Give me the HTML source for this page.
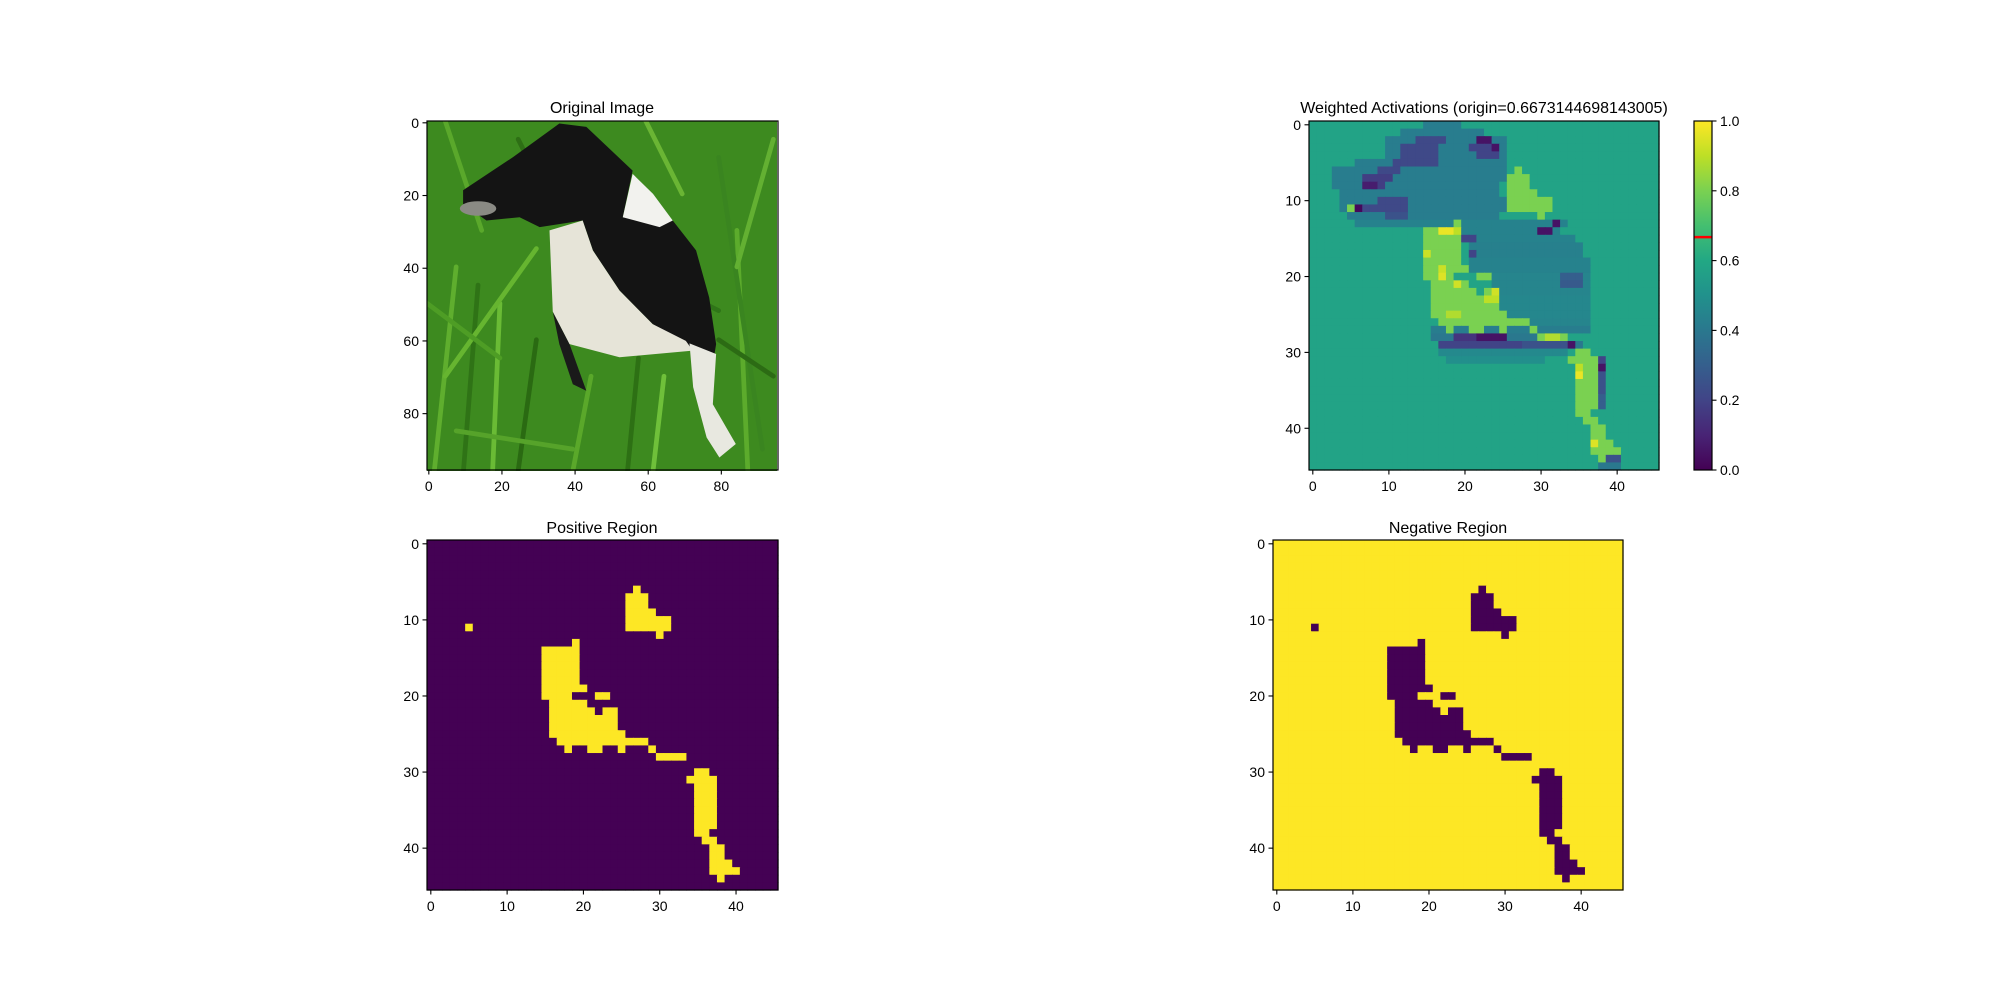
<!DOCTYPE html>
<html><head><meta charset="utf-8"><style>
html,body{margin:0;padding:0;background:#fff;}
svg{display:block;font-family:"Liberation Sans","DejaVu Sans",sans-serif;}
</style></head><body>
<svg id="fig" width="2000" height="1000" viewBox="0 0 2000 1000" xmlns="http://www.w3.org/2000/svg">
<defs>
<linearGradient id="vir" x1="0" y1="1" x2="0" y2="0">
<stop offset="0" stop-color="#440154"/><stop offset="0.1" stop-color="#482475"/><stop offset="0.2" stop-color="#414487"/><stop offset="0.3" stop-color="#355f8d"/><stop offset="0.4" stop-color="#2a788e"/><stop offset="0.5" stop-color="#21918c"/><stop offset="0.6" stop-color="#22a884"/><stop offset="0.7" stop-color="#44bf70"/><stop offset="0.8" stop-color="#7ad151"/><stop offset="0.9" stop-color="#bddf26"/><stop offset="1" stop-color="#fde725"/>
</linearGradient>
<clipPath id="imgclip"><rect x="0" y="0" width="96" height="96"/></clipPath>
</defs>
<g id="orig">
<text x="602" y="113" font-size="16" text-anchor="middle">Original Image</text>
<g transform="translate(427,121) scale(3.6458)" clip-path="url(#imgclip)">
<rect x="0" y="0" width="96" height="96" fill="#3d8a1f"/>
<g stroke-width="1.3" fill="none" stroke-linecap="round">
<path d="M2 96 L8 40" stroke="#5fae2e"/><path d="M10 96 L14 45" stroke="#2f7316"/><path d="M18 96 L20 50" stroke="#6abb35"/>
<path d="M25 96 L30 60" stroke="#2a6a12"/><path d="M5 70 L30 35" stroke="#66b530"/><path d="M40 96 L45 70" stroke="#5aa82a"/>
<path d="M55 96 L58 65" stroke="#2d7014"/><path d="M62 96 L65 70" stroke="#6fc03a"/><path d="M88 96 L85 30" stroke="#5cab2c"/>
<path d="M92 90 L80 10" stroke="#3a8520"/><path d="M70 20 L60 0" stroke="#6ab534"/><path d="M85 40 L95 5" stroke="#63b032"/>
<path d="M15 30 L5 0" stroke="#5aa82b"/><path d="M25 5 L35 25" stroke="#2e6f15"/><path d="M80 60 L95 70" stroke="#2c6b14"/>
<path d="M0 50 L20 65" stroke="#4e9d25"/><path d="M66 45 L80 52" stroke="#2f7518"/><path d="M8 85 L40 90" stroke="#56a32a"/>
</g>
<polygon fill="#141414" points="9.9,19 23.6,9.9 36.3,0.7 43.7,1.6 56.4,13.6 53.7,26.4 67.4,27.3 73.8,35.5 77.4,48.4 79.3,61.2 78.4,66.7 71,61.2 61.9,55.7 52.8,46.5 45.5,35.5 42.7,27.3 30.9,29.1 25.4,26.4 16.3,27.3 9.9,22.7"/>
<polygon fill="#1a1a1a" points="34.5,52.3 39.1,61.2 43.7,74 40,72.2 36.3,61.2"/>
<polygon fill="#f2f2ee" points="56.4,14.5 62,20 67.4,27.3 63.8,29.1 53.7,26.4"/>
<polygon fill="#e6e4d8" points="33.6,30 42.7,27.3 45.5,35.5 52.8,46.5 61.9,55.7 71,60.3 72.9,63 52.8,64.8 39.1,61.2 34.5,52.3"/>
<polygon fill="#e8e8e0" points="72,61 79.3,63.9 78.4,77.7 84.7,88.6 80.2,92.3 76.7,86.8 73,73"/>
<ellipse cx="14" cy="24" rx="5" ry="2" fill="#8a8a84"/>
</g>
<rect x="427" y="121" width="351" height="349" fill="none" stroke="#000" stroke-width="1.2"/>
<g id="origTicks"></g>
</g>
<g id="act">
<text x="1484" y="113" font-size="16" text-anchor="middle">Weighted Activations (origin=0.6673144698143005)</text>
<g id="heat"></g>
<rect x="1309" y="121" width="350" height="349" fill="none" stroke="#000" stroke-width="1.2"/>
<g id="actTicks"></g>
<g>
<rect x="1694" y="121" width="18" height="349" fill="url(#vir)"/>
<line id="originLine" x1="1694" x2="1712" stroke="#ff0000" stroke-width="2.5"/>
<rect x="1694" y="121" width="18" height="349" fill="none" stroke="#000" stroke-width="1.2"/>
<g id="cbTicks"></g>
</g>
</g>
<g id="pos">
<text x="602" y="533" font-size="16" text-anchor="middle">Positive Region</text>
<g id="posHeat"></g>
<rect x="427" y="540" width="351" height="350" fill="none" stroke="#000" stroke-width="1.2"/>
<g id="posTicks"></g>
</g>
<g id="neg">
<text x="1448" y="533" font-size="16" text-anchor="middle">Negative Region</text>
<g id="negHeat"></g>
<rect x="1273" y="540" width="350" height="350" fill="none" stroke="#000" stroke-width="1.2"/>
<g id="negTicks"></g>
</g>
</svg>
<script>
// positive mask segments [row, colStart, colEnd]
const maskSegments = [
[6,27,27],[7,26,28],[8,26,28],[9,26,29],[10,26,31],[11,26,31],[11,5,5],[12,30,30],[13,19,19],
[14,15,19],[15,15,19],[16,15,19],[17,15,19],[18,15,19],[19,15,20],[20,15,18],[20,22,23],
[21,16,20],[22,16,21],[22,23,24],[23,16,24],[24,16,24],[25,16,25],[26,17,28],
[27,18,18],[27,21,22],[27,25,25],[27,29,29],[28,30,33],[30,35,36],[31,34,37],
[32,35,37],[33,35,37],[34,35,37],[35,35,37],[36,35,37],[37,35,37],[38,35,36],[39,36,37],
[40,37,38],[41,37,38],[42,37,39],[43,37,40],[44,38,38]];
// activation segments [row, colStart, colEnd, value]
const baseValue = 0.58;
const darkSegments = [
[0,15,19,0.42],[1,12,22,0.42],[2,10,25,0.42],[3,10,25,0.42],[4,10,25,0.42],[5,6,25,0.42],[6,3,25,0.42],
[7,3,25,0.42],[8,3,24,0.42],[9,4,24,0.42],[10,4,25,0.42],[11,4,25,0.42],[12,5,24,0.42],[13,6,33,0.44],
[14,20,32,0.44],[15,20,34,0.44],[16,21,35,0.43],[17,21,35,0.43],[18,21,36,0.44],[19,21,36,0.44],[20,22,36,0.45],
[21,24,36,0.45],[22,24,36,0.45],[23,25,36,0.46],[24,25,36,0.46],[25,26,36,0.46],[26,29,36,0.45],
[27,16,36,0.42],[28,16,33,0.4],[29,17,35,0.4],[30,17,33,0.47],[31,18,30,0.49],[45,38,40,0.4]];
const purpleSegments = [
[2,14,17,0.22],[3,12,16,0.22],[3,21,24,0.2],[4,12,16,0.22],[4,22,24,0.2],[5,11,16,0.22],[6,9,11,0.22],
[7,7,10,0.18],[8,7,9,0.18],[10,9,12,0.22],[11,7,12,0.22],[12,10,12,0.25],[15,20,21,0.2],[17,21,21,0.2],
[28,19,24,0.15],[29,17,27,0.2],[31,38,38,0.2],[32,38,38,0.2],[33,38,38,0.25],[34,38,38,0.25],[35,38,38,0.25],[36,38,38,0.3],[37,38,38,0.3],
[29,28,33,0.25],[20,33,35,0.3],[21,33,35,0.28],[44,39,40,0.25]];
const veryDarkSegments = [[2,22,23,0.05],[3,24,24,0.05],[8,7,8,0.08],[11,6,6,0.02],[13,32,32,0.05],[14,30,31,0.05],[28,22,25,0.05],[29,34,34,0.05],[32,38,38,0.05]];
const brightValue = 0.8;
const brightSegments = [[14,17,18,0.97],[14,19,19,0.9],[17,15,15,0.92],[19,17,17,0.92],[20,17,17,0.95],[21,19,19,0.93],[22,24,24,0.93],[23,23,24,0.9],[25,18,19,0.88],[28,31,32,0.88],[33,35,35,0.97],[32,35,35,0.9],[42,37,37,0.95]];
const gridSize = 46, imgSize = 96;
const imgTicks = [0,20,40,60,80];
const gridTicks = [0,10,20,30,40];
const cbTickValues = [0.0,0.2,0.4,0.6,0.8,1.0];
const originValue = 0.6673144698143005;

const NS="http://www.w3.org/2000/svg";
const vstops=["#440154","#482475","#414487","#355f8d","#2a788e","#21918c","#22a884","#44bf70","#7ad151","#bddf26","#fde725"];
function hex(h){return [1,3,5].map(i=>parseInt(h.substr(i,2),16));}
function viridis(v){v=Math.max(0,Math.min(1,v));const p=v*10,i=Math.min(9,Math.floor(p)),t=p-i;const a=hex(vstops[i]),b=hex(vstops[i+1]);
return "rgb("+a.map((c,k)=>Math.round(c+(b[k]-c)*t)).join(",")+")";}
function el(tag,attrs,parent){const e=document.createElementNS(NS,tag);for(const k in attrs)e.setAttribute(k,attrs[k]);parent.appendChild(e);return e;}

const mask=[];for(let r=0;r<gridSize;r++){mask.push(new Array(gridSize).fill(0));}
maskSegments.forEach(s=>{for(let c=s[1];c<=s[2];c++)mask[s[0]][c]=1;});
const act=[];for(let r=0;r<gridSize;r++){act.push(new Array(gridSize).fill(baseValue));}
[darkSegments,purpleSegments,veryDarkSegments].forEach(list=>list.forEach(s=>{for(let c=s[1];c<=s[2];c++)act[s[0]][c]=s[3];}));
for(let r=0;r<gridSize;r++)for(let c=0;c<gridSize;c++)if(mask[r][c])act[r][c]=brightValue;
brightSegments.forEach(s=>{for(let c=s[1];c<=s[2];c++)act[s[0]][c]=s[3];});

function axis(x0,y0,w,h,n){return {x:v=>x0+(v+0.5)*w/n,y:v=>y0+(v+0.5)*h/n,cw:w/n,ch:h/n,x0,y0,w,h};}
function drawGrid(g,ax,valFn){
  for(let r=0;r<gridSize;r++)for(let c=0;c<gridSize;c++){
    const rc=el('rect',{x:(ax.x(c)-ax.cw/2).toFixed(2),y:(ax.y(r)-ax.ch/2).toFixed(2),width:(ax.cw+0.6).toFixed(2),height:(ax.ch+0.6).toFixed(2),fill:viridis(valFn(r,c))},g);
    
    
  }
}
function drawTicks(g,ax,ticks,n){
  ticks.forEach(t=>{
    const xx=ax.x(t),yb=ax.y0+ax.h;
    el('line',{x1:xx,x2:xx,y1:yb,y2:yb+4.5,stroke:'#000','stroke-width':1.1},g);
    const tx=el('text',{x:xx,y:yb+21,'font-size':14,'text-anchor':'middle'},g);tx.textContent=t;
    
    
    const yy=ax.y(t);
    el('line',{x1:ax.x0-4.5,x2:ax.x0,y1:yy,y2:yy,stroke:'#000','stroke-width':1.1},g);
    const ty=el('text',{x:ax.x0-8,y:yy+5,'font-size':14,'text-anchor':'end'},g);ty.textContent=t;
    
    
  });
}
const axOrig=axis(427,121,351,349,imgSize);
drawTicks(document.getElementById('origTicks'),axOrig,imgTicks);
const axAct=axis(1309,121,350,349,gridSize);
drawGrid(document.getElementById('heat'),axAct,(r,c)=>act[r][c]);
drawTicks(document.getElementById('actTicks'),axAct,gridTicks);
const axPos=axis(427,540,351,350,gridSize);
drawGrid(document.getElementById('posHeat'),axPos,(r,c)=>mask[r][c]);
drawTicks(document.getElementById('posTicks'),axPos,gridTicks);
const axNeg=axis(1273,540,350,350,gridSize);
drawGrid(document.getElementById('negHeat'),axNeg,(r,c)=>1-mask[r][c]);
drawTicks(document.getElementById('negTicks'),axNeg,gridTicks);
// colorbar
const cbY=v=>470-v*349;
const ol=document.getElementById('originLine');ol.setAttribute('y1',cbY(originValue));ol.setAttribute('y2',cbY(originValue));
const cbg=document.getElementById('cbTicks');
cbTickValues.forEach(v=>{
  const y=cbY(v);
  el('line',{x1:1712,x2:1716.5,y1:y,y2:y,stroke:'#000','stroke-width':1.1},cbg);
  const t=el('text',{x:1720,y:y+5,'font-size':14},cbg);t.textContent=v.toFixed(1);
  
  
});
</script>
</body></html>
